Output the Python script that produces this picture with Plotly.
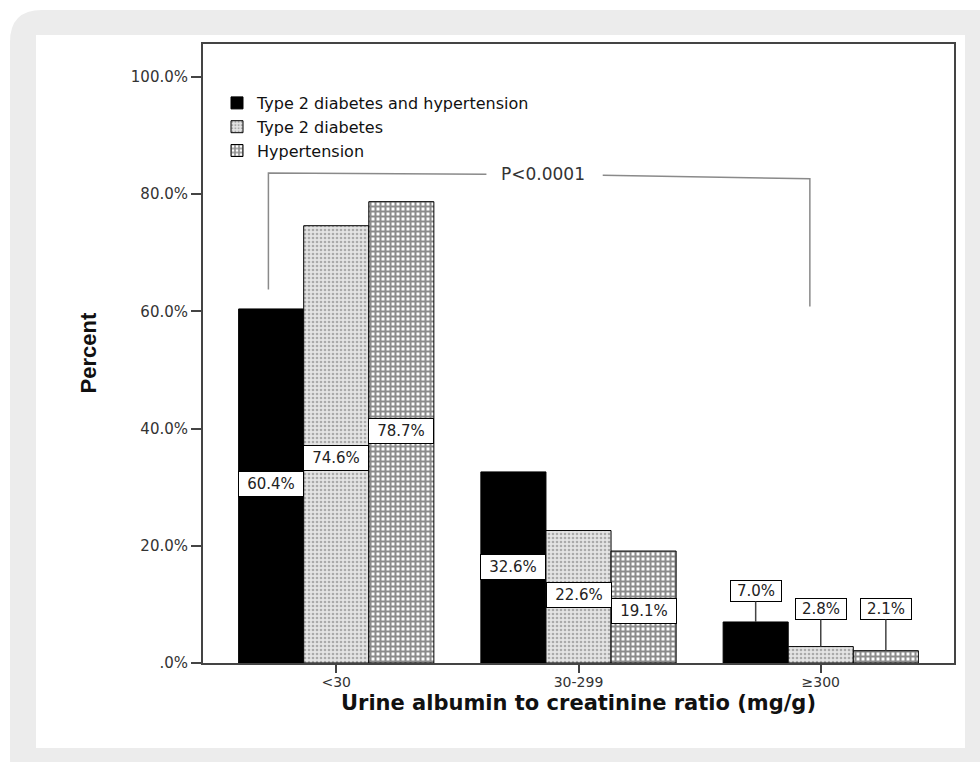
import plotly.graph_objects as go

# ---------------- data ----------------
categories = ["<30", "30-299", "≥300"]
series_names = ["Type 2 diabetes and hypertension", "Type 2 diabetes", "Hypertension"]
t2d_and_htn = [60.4, 32.6, 7.0]
t2d_only = [74.6, 22.6, 2.8]
htn_only = [78.7, 19.1, 2.1]
y_tick_vals = [0, 20, 40, 60, 80, 100]
y_tick_text = [".0%", "20.0%", "40.0%", "60.0%", "80.0%", "100.0%"]
p_value_text = "P<0.0001"
x_title = "Urine albumin to creatinine ratio (mg/g)"
y_title = "Percent"

# label box centre heights (in axis units) for each series / category
label_y_t2d_htn = [30.5, 16.4, 12.3]
label_y_t2d = [34.9, 11.6, 9.2]
label_y_htn = [39.5, 8.9, 9.2]

# ---------------- geometry / style ----------------
W, H = 980, 762
ML, MR, MT, MB = 203, 26, 44, 99
PW, PH = W - ML - MR, H - MT - MB
BARGAP = 0.194
BW = (1 - BARGAP) / 3.0
FONT = "DejaVu Sans"


def px_x(p):
    return (p - ML) / PW


def px_y(p):
    return (H - MB - p) / PH


series = [
    (series_names[0], t2d_and_htn, label_y_t2d_htn,
     dict(color="black")),
    (series_names[1], t2d_only, label_y_t2d,
     dict(color="white", pattern=dict(shape=".", fgcolor="#707070", bgcolor="#e4e4e4",
                                       size=4, solidity=0.35))),
    (series_names[2], htn_only, label_y_htn,
     dict(color="white", pattern=dict(shape="+", fgcolor="#1a1a1a", bgcolor="white",
                                       size=5, solidity=0.65))),
]

fig = go.Figure()
for name, vals, _, mk in series:
    mk = dict(mk)
    mk["line"] = dict(color="black", width=1)
    fig.add_trace(go.Bar(x=categories, y=vals, name=name, marker=mk))

annotations = []
for si, (name, vals, ly, _) in enumerate(series):
    off = (si - 1) * BW
    for ci, v in enumerate(vals):
        xpos = ci + off
        text = f"{v:.1f}%"
        if ci < 2:
            annotations.append(dict(
                x=xpos, y=ly[ci], xref="x", yref="y", text=text, showarrow=False,
                font=dict(family=FONT, size=15, color="#222"),
                bgcolor="white", bordercolor="black", borderwidth=1, borderpad=3,
                width=58, height=18))
        else:
            annotations.append(dict(
                x=xpos, y=v, xref="x", yref="y", text=text, showarrow=True,
                axref="x", ayref="y", ax=xpos, ay=ly[ci],
                arrowhead=0, arrowwidth=1.5, arrowcolor="#444",
                font=dict(family=FONT, size=15, color="#222"),
                bgcolor="white", bordercolor="black", borderwidth=1, borderpad=2,
                width=46, height=16))

# p-value text
annotations.append(dict(x=0.855, y=83.4, xref="x", yref="y", text=p_value_text,
                        showarrow=False, font=dict(family=FONT, size=17, color="#333")))
# axis titles
annotations.append(dict(x=0.5, y=px_y(703), xref="paper", yref="paper", text=f"<b>{x_title}</b>",
                        showarrow=False, font=dict(family=FONT, size=21, color="#111"),
                        xanchor="center", yanchor="middle"))
annotations.append(dict(x=px_x(88), y=0.5, xref="paper", yref="paper", text=f"<b>{y_title}</b>",
                        showarrow=False, textangle=-90,
                        font=dict(family="Liberation Sans Narrow, Liberation Sans", size=22, color="#111"),
                        xanchor="center", yanchor="middle"))


def rounded_rect(x0, y0, x1, y1, r):
    rx, ry = r / PW, r / PH
    X0, X1 = px_x(x0), px_x(x1)
    Y0, Y1 = px_y(y0), px_y(y1)
    return (f"M{X0 + rx},{Y0} L{X1 - rx},{Y0} Q{X1},{Y0} {X1},{Y0 - ry} "
            f"L{X1},{Y1 + ry} Q{X1},{Y1} {X1 - rx},{Y1} L{X0 + rx},{Y1} "
            f"Q{X0},{Y1} {X0},{Y1 + ry} L{X0},{Y0 - ry} Q{X0},{Y0} {X0 + rx},{Y0} Z")


shapes = [
    dict(type="path", xref="paper", yref="paper", layer="below",
         path=rounded_rect(10, 10, 1010, 790, 32), fillcolor="#ececec", line=dict(width=0)),
    dict(type="rect", xref="paper", yref="paper", layer="below",
         x0=px_x(36), x1=px_x(965), y0=px_y(748), y1=px_y(35),
         fillcolor="white", line=dict(width=0)),
    # p-value bracket
    dict(type="path", xref="x", yref="y",
         path="M-0.28,63.7 L-0.28,83.6 L0.62,83.4",
         line=dict(color="#8a8a8a", width=1.5)),
    dict(type="path", xref="x", yref="y",
         path="M1.10,83.2 L1.955,82.6 L1.955,60.8",
         line=dict(color="#8a8a8a", width=1.5)),
]

fig.update_layout(
    width=W, height=H, autosize=False,
    margin=dict(l=ML, r=MR, t=MT, b=MB),
    paper_bgcolor="white", plot_bgcolor="white",
    barmode="group", bargap=BARGAP, bargroupgap=0,
    font=dict(family=FONT, color="#333"),
    showlegend=True,
    legend=dict(x=px_x(217), y=px_y(86), xanchor="left", yanchor="top",
                bgcolor="rgba(0,0,0,0)", font=dict(family=FONT, size=16, color="#111"),
                itemwidth=30, tracegroupgap=0),
    annotations=annotations,
    shapes=shapes,
    xaxis=dict(range=[-0.55, 2.55], showline=True, linecolor="#444", linewidth=2, mirror=True,
               ticks="outside", ticklen=8, tickwidth=2, tickcolor="#444", ticklabelstandoff=-3,
               tickfont=dict(family=FONT, size=14, color="#333"), showgrid=False, zeroline=False),
    yaxis=dict(range=[0, 105.6], showline=True, linecolor="#444", linewidth=2, mirror=True,
               tickvals=y_tick_vals, ticktext=y_tick_text,
               ticks="outside", ticklen=10, tickwidth=2, tickcolor="#444",
               tickfont=dict(family=FONT, size=15, color="#333"), showgrid=False, zeroline=False),
)

fig.write_html("out.html", config={"displayModeBar": False},
               post_script="document.body.style.margin='0';")
